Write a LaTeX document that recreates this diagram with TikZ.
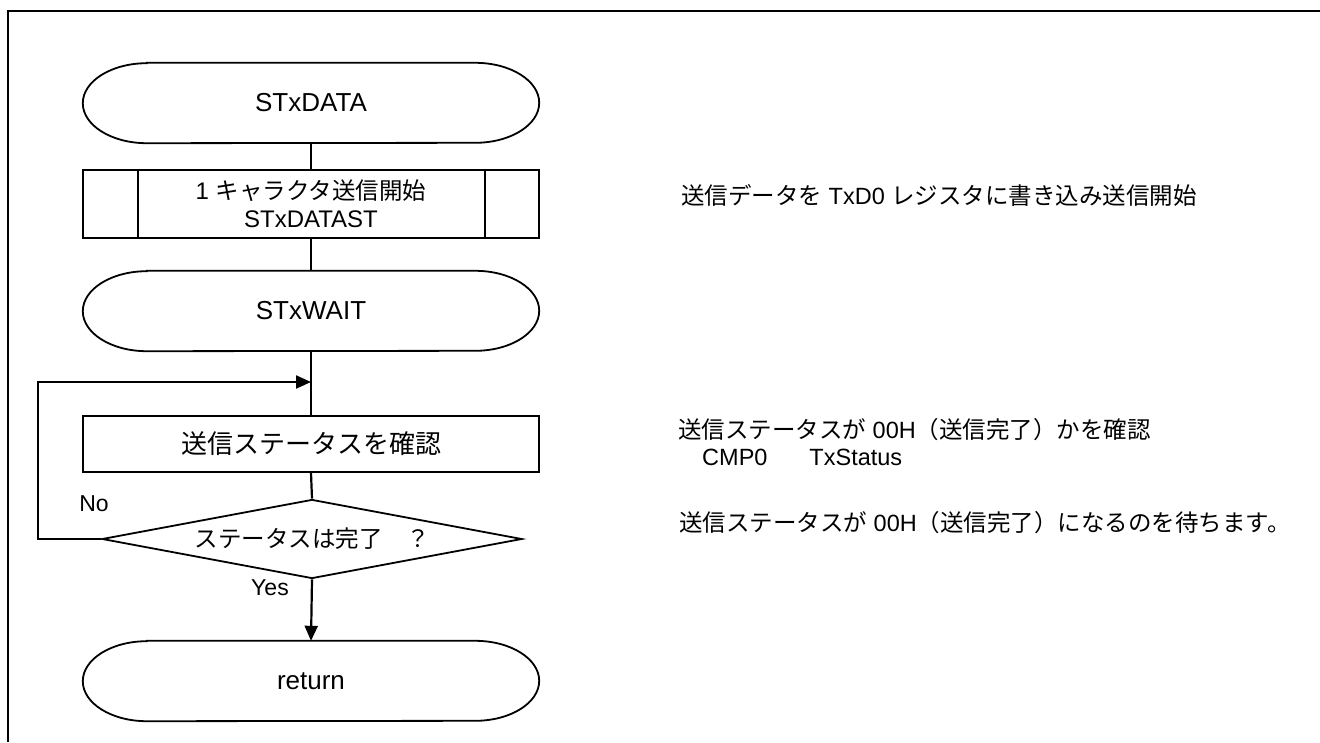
\documentclass[tikz,border=0pt]{standalone}
\usepackage{fontspec}
\setmainfont{Liberation Sans}
\newfontfamily\jp{Noto Sans CJK JP}
\usetikzlibrary{shapes.geometric,arrows.meta}
\newcommand\fs[2][]{\fontsize{#2}{#2}\selectfont}
\newcommand\stadium[1]{%
  \draw[shapeline] ([xshift=64pt]#1.north west) -- ([xshift=-64pt]#1.north east)
    arc[start angle=90, end angle=-90, x radius=64pt, y radius=40pt]
    -- ([xshift=64pt]#1.south west)
    arc[start angle=270, end angle=90, x radius=64pt, y radius=40pt] -- cycle;}
\begin{document}
\begin{tikzpicture}[x=1pt,y=-1pt,
  shapeline/.style={line width=1.8pt},
  term/.style={minimum width=456pt, minimum height=80pt, inner sep=0pt, font=\fs{26}},
  subr/.style={draw, shapeline, minimum width=456pt, minimum height=68pt, inner sep=0pt, align=center, font=\fontsize{24}{28}\selectfont},
  proc/.style={draw, shapeline, minimum width=456pt, minimum height=56pt, inner sep=0pt},
  decis/.style={draw, shapeline, diamond, aspect=5.3, minimum width=420pt, minimum height=79pt, inner sep=0pt},
  conn/.style={line width=2.2pt},
  arr/.style={conn, -{Triangle[length=15pt,width=13pt]}},
  rtext/.style={anchor=west, inner sep=0pt, font=\fs{23.5}},
  lbl/.style={inner sep=0pt, font=\fs{23}}]
\useasboundingbox (0,0) rectangle (1320,742);
\fill[white] (0,0) rectangle (1320,742);
% frame
\draw[line width=2.6pt] (8,742) -- (8,11) -- (1320,11);

% flow nodes
\node[term] (t1) at (311,103) {STxDATA};
\stadium{t1}
\node[subr] (s1) at (311,204) {1 {\jp\fontsize{23.5}{28}\selectfont キャラクタ送信開始}\\ STxDATAST};
\draw[shapeline] ([xshift=56pt]s1.north west) -- ([xshift=56pt]s1.south west);
\draw[shapeline] ([xshift=-55pt]s1.north east) -- ([xshift=-55pt]s1.south east);
\node[term] (t2) at (311,311) {STxWAIT};
\stadium{t2}
\coordinate (j) at (311,382);
\coordinate (lc) at (38,382);
\node[proc] (p1) at (311,444) {\jp\fs{26}送信ステータスを確認};
\node[decis] (d1) at (312,539) {\jp\fs{23.5}ステータスは完了　？};
\node[term] (t3) at (311,681) {return};
\stadium{t3}

% connectors
\draw[conn] (t1.south) -- (s1.north);
\draw[conn] (s1.south) -- (t2.north);
\draw[conn] (t2.south) -- (p1.north);
\draw[conn] (p1.south) -- (d1.north);
\draw[arr] (d1.west) -| (lc) -- (j);
\draw[arr] (d1.south) -- (t3.north);
\node[lbl] (no) at (94,504) {No};
\node[lbl] (yes) at (270,588) {Yes};

% right-hand comments
\node[rtext] (c1) at (681,195) {{\jp 送信データを} TxD0 {\jp レジスタに書き込み送信開始}};
\node[rtext] (c2) at (678,430) {{\jp 送信ステータスが} 00H{\jp （送信完了）かを確認}};
\node[rtext] (c3) at (702,457) {CMP0\hspace{42pt}TxStatus};
\node[rtext] (c4) at (679,523) {{\jp 送信ステータスが} 00H{\jp （送信完了）になるのを待ちます。}};
\end{tikzpicture}
\end{document}
